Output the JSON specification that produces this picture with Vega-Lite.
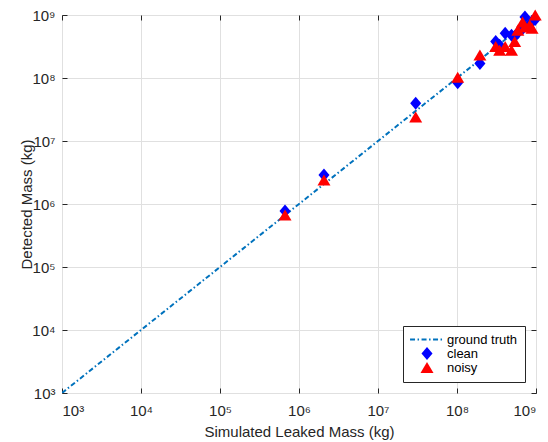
{
  "$schema": "https://vega.github.io/schema/vega-lite/v6.json",
  "width": 474,
  "height": 378,
  "autosize": "none",
  "padding": {"left": 62, "top": 15, "right": 12, "bottom": 49},
  "config": {
    "font": "Liberation Sans",
    "view": {"stroke": "#262626", "strokeWidth": 1},
    "axis": {
      "labelFont": "Liberation Sans",
      "labelFontSize": 15,
      "labelColor": "#262626",
      "titleFont": "Liberation Sans",
      "titleFontSize": 15,
      "titleFontWeight": "normal",
      "titleColor": "#262626",
      "gridColor": "#e0e0e0",
      "gridWidth": 1,
      "tickColor": "#262626",
      "domain": false
    },
    "legend": {
      "orient": "bottom-right",
      "offset": 11,
      "padding": 7,
      "strokeColor": "#262626",
      "fillColor": "white",
      "labelFont": "Liberation Sans",
      "labelFontSize": 13,
      "labelColor": "black",
      "symbolSize": 169,
      "rowPadding": 0,
      "labelOffset": 4,
      "cornerRadius": 0
    }
  },
  "datasets": {
    "truth": [
      {"mass": 1000, "detected": 1000, "series": "ground truth"},
      {"mass": 1000000000, "detected": 1000000000, "series": "ground truth"}
    ],
    "est": [
      {"mass": 665300, "detected": 774500, "series": "clean"},
      {"mass": 2070000, "detected": 2884000, "series": "clean"},
      {"mass": 30000000, "detected": 39630000, "series": "clean"},
      {"mass": 102100000, "detected": 84140000, "series": "clean"},
      {"mass": 195000000, "detected": 169800000, "series": "clean"},
      {"mass": 309000000, "detected": 380200000, "series": "clean"},
      {"mass": 346700000, "detected": 331100000, "series": "clean"},
      {"mass": 407400000, "detected": 512900000, "series": "clean"},
      {"mass": 489800000, "detected": 478600000, "series": "clean"},
      {"mass": 537000000, "detected": 457100000, "series": "clean"},
      {"mass": 588800000, "detected": 524800000, "series": "clean"},
      {"mass": 676100000, "detected": 602600000, "series": "clean"},
      {"mass": 724400000, "detected": 933300000, "series": "clean"},
      {"mass": 831800000, "detected": 707900000, "series": "clean"},
      {"mass": 891300000, "detected": 794300000, "series": "clean"},
      {"mass": 977200000, "detected": 851100000, "series": "clean"},
      {"mass": 665300, "detected": 668300, "series": "noisy"},
      {"mass": 2070000, "detected": 2399000, "series": "noisy"},
      {"mass": 30000000, "detected": 24040000, "series": "noisy"},
      {"mass": 102100000, "detected": 102600000, "series": "noisy"},
      {"mass": 195000000, "detected": 231700000, "series": "noisy"},
      {"mass": 309000000, "detected": 316200000, "series": "noisy"},
      {"mass": 346700000, "detected": 275400000, "series": "noisy"},
      {"mass": 407400000, "detected": 316200000, "series": "noisy"},
      {"mass": 489800000, "detected": 275400000, "series": "noisy"},
      {"mass": 537000000, "detected": 380200000, "series": "noisy"},
      {"mass": 588800000, "detected": 575400000, "series": "noisy"},
      {"mass": 676100000, "detected": 776200000, "series": "noisy"},
      {"mass": 724400000, "detected": 645700000, "series": "noisy"},
      {"mass": 831800000, "detected": 691800000, "series": "noisy"},
      {"mass": 891300000, "detected": 616600000, "series": "noisy"},
      {"mass": 977200000, "detected": 1000000000, "series": "noisy"}
    ]
  },
  "layer": [
    {
      "data": {"name": "truth"},
      "mark": {"type": "line", "strokeWidth": 2, "strokeDash": [5, 2.5, 1.5, 2.5], "clip": true},
      "encoding": {
        "x": {
          "field": "mass",
          "type": "quantitative",
          "scale": {"type": "log", "domain": [1000, 1000000000], "nice": false},
          "axis": {
            "orient": "bottom",
            "title": "Simulated Leaked Mass (kg)",
            "values": [1000, 10000, 100000, 1000000, 10000000, 100000000, 1000000000],
            "labelExpr": "'10' + ['⁰','¹','²','³','⁴','⁵','⁶','⁷','⁸','⁹'][round(log(datum.value)/LN10)]",
            "grid": true,
            "tickSize": -5,
            "labelPadding": 15,
            "titlePadding": 6
          }
        },
        "y": {
          "field": "detected",
          "type": "quantitative",
          "scale": {"type": "log", "domain": [1000, 1000000000], "nice": false},
          "axis": {
            "orient": "left",
            "title": "Detected Mass (kg)",
            "values": [1000, 10000, 100000, 1000000, 10000000, 100000000, 1000000000],
            "labelExpr": "'10' + ['⁰','¹','²','³','⁴','⁵','⁶','⁷','⁸','⁹'][round(log(datum.value)/LN10)]",
            "grid": true,
            "tickSize": -5,
            "labelPadding": 12,
            "titlePadding": -3
          }
        },
        "color": {
          "field": "series",
          "type": "nominal",
          "scale": {"domain": ["ground truth", "clean", "noisy"], "range": ["#0072BD", "#0000FF", "#FF0000"]},
          "legend": {
            "title": null,
            "encode": {
              "symbols": {
                "update": {
                  "x": {"value": 17},
                  "fill": {"signal": "datum.value === 'ground truth' ? 'transparent' : scale('color', datum.value)"},
                  "stroke": {"signal": "scale('color', datum.value)"},
                  "strokeWidth": {"signal": "datum.value === 'ground truth' ? 2 : 0"},
                  "strokeDash": {"signal": "datum.value === 'ground truth' ? [5, 2.5, 1.5, 2.5] : [1, 0]"},
                  "size": {"signal": "datum.value === 'ground truth' ? 1150 : 169"},
                  "opacity": {"value": 1}
                }
              },
              "labels": {
                "update": {
                  "x": {"value": 37}
                }
              }
            }
          }
        },
        "shape": {
          "field": "series",
          "type": "nominal",
          "scale": {"domain": ["ground truth", "clean", "noisy"], "range": ["stroke", "M0,-1L0.85,0L0,1L-0.85,0Z", "M0,-0.85L1,0.85L-1,0.85Z"]},
          "legend": {"title": null}
        }
      }
    },
    {
      "data": {"name": "est"},
      "mark": {"type": "point", "filled": true, "opacity": 1, "size": 169, "strokeWidth": 0},
      "encoding": {
        "x": {
          "field": "mass",
          "type": "quantitative",
          "scale": {"type": "log", "domain": [1000, 1000000000], "nice": false},
          "axis": {
            "orient": "top",
            "title": null,
            "labels": false,
            "grid": false,
            "tickSize": -5,
            "values": [1000, 10000, 100000, 1000000, 10000000, 100000000, 1000000000]
          }
        },
        "y": {
          "field": "detected",
          "type": "quantitative",
          "scale": {"type": "log", "domain": [1000, 1000000000], "nice": false},
          "axis": {
            "orient": "right",
            "title": null,
            "labels": false,
            "grid": false,
            "tickSize": -5,
            "values": [1000, 10000, 100000, 1000000, 10000000, 100000000, 1000000000]
          }
        },
        "color": {"field": "series", "type": "nominal"},
        "shape": {"field": "series", "type": "nominal"}
      }
    }
  ],
  "resolve": {"axis": {"x": "independent", "y": "independent"}}
}
